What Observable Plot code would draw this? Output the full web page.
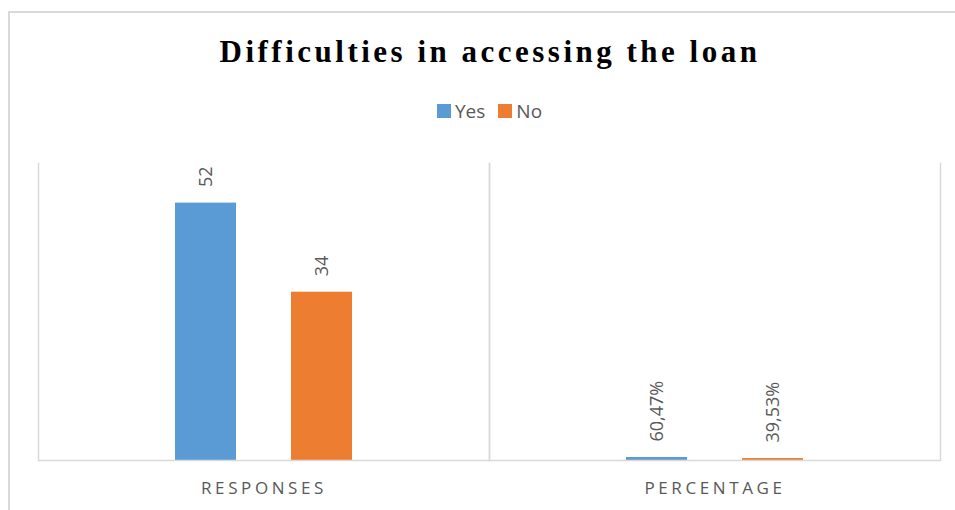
<!DOCTYPE html>
<html>
<head>
<meta charset="utf-8">
<script src="https://cdn.jsdelivr.net/npm/d3@7"></script>
<script src="https://cdn.jsdelivr.net/npm/@observablehq/plot@0.6"></script>
<style>
  html, body { margin: 0; padding: 0; background: #fff; }
  #wrap { position: relative; width: 955px; height: 510px; overflow: hidden; }
  #frame { position: absolute; left: 8px; top: 11px; width: 960px; height: 510px;
           border-left: 2px solid #d9d9d9; border-top: 2px solid #d9d9d9; }
  #title { position: absolute; left: 9px; width: 962px; top: 36px; text-align: center;
           font-family: "Liberation Serif", "Times New Roman", serif; font-weight: bold;
           font-size: 31px; line-height: 31px; letter-spacing: 3.5px; color: #000; white-space: nowrap; }
  #legend { position: absolute; left: 437px; top: 101px; height: 20px; display: flex; align-items: center;
            font-family: "Open Sans", sans-serif; font-size: 19px; line-height: 20px; color: #595959; }
  #legend .sw { width: 14px; height: 14px; display: inline-block; margin-right: 4px; }
  #legend .item { display: flex; align-items: center; margin-right: 13px; }
  #chart { position: absolute; left: 0; top: 140px; }
  #chart g[aria-label="text"] { letter-spacing: 0; }
</style>
</head>
<body>
<div id="wrap">
  <div id="frame"></div>
  <div id="title"></div>
  <div id="legend"></div>
  <div id="chart"></div>
</div>
<script>
const titleText = "Difficulties in accessing the loan";
const groups = ["RESPONSES", "PERCENTAGE"];
const series = ["Yes", "No"];
const responses = [52, 34];
const percentages = [0.6047, 0.3953];
const colors = ["#5B9BD5", "#ED7D31"];

document.getElementById("title").textContent = titleText;

const legend = document.getElementById("legend");
series.forEach((s, i) => {
  const item = document.createElement("span");
  item.className = "item";
  const sw = document.createElement("span");
  sw.className = "sw";
  sw.style.background = colors[i];
  const t = document.createElement("span");
  t.textContent = s;
  item.appendChild(sw);
  item.appendChild(t);
  legend.appendChild(item);
});

const pctFmt = v => d3.format(".2%")(v).replace(".", ",");
const table = [];
series.forEach((s, i) => {
  table.push({group: groups[0], series: s, value: responses[i], label: String(responses[i])});
  table.push({group: groups[1], series: s, value: percentages[i], label: pctFmt(percentages[i])});
});

const plot = Plot.plot({
  width: 955,
  height: 370,
  marginLeft: 38,
  marginRight: 15,
  marginTop: 23,
  marginBottom: 50,
  style: {
    fontFamily: "'Open Sans', sans-serif",
    fontSize: "17px",
    letterSpacing: "3.6px",
    color: "#595959",
    background: "transparent",
    overflow: "visible"
  },
  fx: {domain: groups, padding: 0, axis: "bottom", tickSize: 0, tickPadding: 21, label: null},
  x: {domain: series, paddingInner: 0.476, paddingOuter: 1.174, axis: null},
  y: {domain: [0, 60], axis: null},
  color: {domain: series, range: colors},
  marks: [
    Plot.frame({anchor: "left", stroke: "#d9d9d9", strokeWidth: 1.5}),
    Plot.frame({anchor: "right", stroke: "#d9d9d9", strokeWidth: 1.5}),
    Plot.barY(table, {fx: "group", x: "series", y: "value", fill: "series"}),
    Plot.ruleY([0], {stroke: "#d9d9d9", strokeWidth: 1.5}),
    Plot.text(table, {fx: "group", x: "series", y: "value", text: "label", rotate: -90,
      textAnchor: "start", dy: -16, fill: "#595959", fontSize: 18})
  ]
});
document.getElementById("chart").appendChild(plot);
</script>
</body>
</html>
